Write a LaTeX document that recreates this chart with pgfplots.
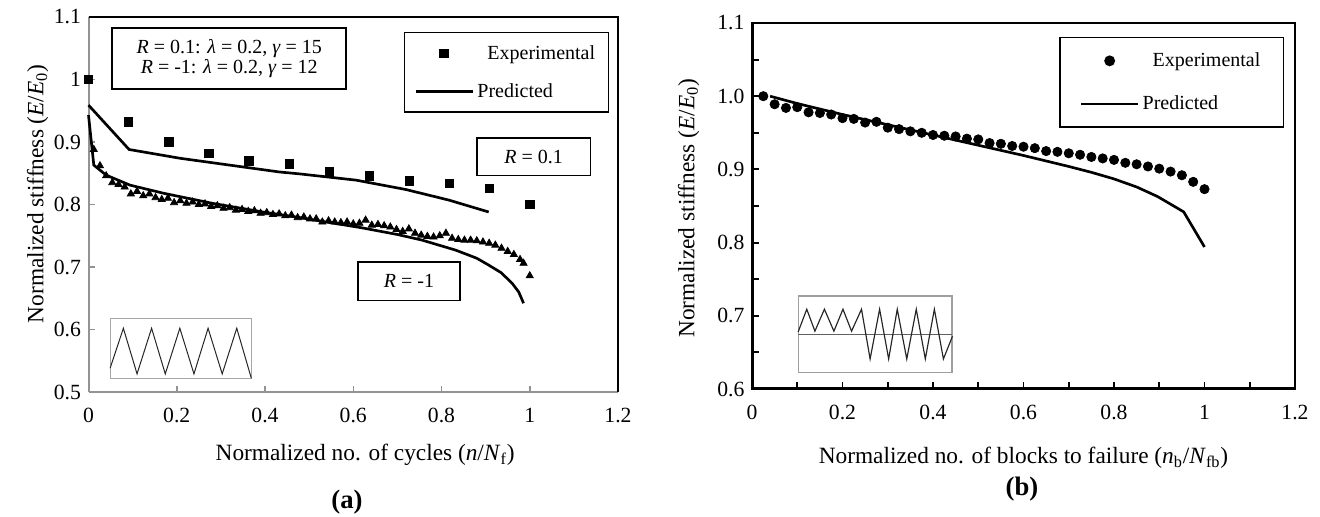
\documentclass[border=0pt]{standalone}
\usepackage{fontspec}
\setmainfont{Liberation Serif}
\usepackage{pgfplots}
\pgfplotsset{compat=1.18}

\pgfplotsset{
  common/.style={
    scale only axis,
    clip=false,
    /pgf/number format/assume math mode=true,
    tick align=inside,
    legend cell align=left,
    legend image code/.code={\draw[mark repeat=2,mark phase=2] plot coordinates {(0pt,0pt) (17pt,0pt) (34pt,0pt)};},
    label style={font=\fontsize{14}{16}\selectfont},
    tick label style={font=\fontsize{13}{15}\selectfont},
    xticklabel style={yshift=-6pt},
    yticklabel style={xshift=-1pt},
  },
}

\begin{document}
\begin{tikzpicture}
\useasboundingbox (0,0) rectangle (792pt,310.2pt);

% ---------------- (a) ----------------
\begin{axis}[common,
  at={(53.1pt,75pt)}, anchor=south west,
  width=317.7pt, height=225pt,
  xmin=0, xmax=1.2, ymin=0.5, ymax=1.1,
  xtick={0,0.2,0.4,0.6,0.8,1,1.2},
  ytick={0.5,0.6,0.7,0.8,0.9,1,1.1},
  axis x line*=bottom, axis y line*=left,
  axis line style={draw=gray!85, line width=1.2pt},
  tick style={gray!85, line width=0.9pt},
  major tick length=3.6pt,
  xlabel={Normalized no. of cycles (\textit{n}/\textit{N}\textsubscript{f})},
  ylabel={Normalized stiffness (\textit{E}/\textit{E}\textsubscript{0})},
  xlabel style={at={(axis cs:0.627,0.399)}, anchor=center},
  ylabel style={at={(axis cs:-0.115,0.817)}, anchor=center},
  legend style={at={(axis cs:0.715,1.076)}, anchor=north west, draw=black, line width=0.9pt,
    inner xsep=6pt, inner ysep=5.5pt, row sep=9pt, font=\fontsize{12}{14}\selectfont},
]
\addplot[only marks, mark=square*, mark size=2.5pt, black] coordinates {
  (0,1.000) (0.0909,0.932) (0.1818,0.900) (0.2727,0.882) (0.3636,0.870) (0.4545,0.865)
  (0.5455,0.852) (0.6364,0.846) (0.7273,0.838) (0.8182,0.834) (0.9091,0.826) (1.0,0.800)
};
\addlegendentry{\hspace{6pt}Experimental}
\addplot[black, line width=1.6pt, mark=none] coordinates {
  (0,0.959) (0.092,0.888) (0.207,0.874) (0.32,0.863) (0.433,0.852) (0.478,0.849)
  (0.606,0.839) (0.719,0.824) (0.817,0.807) (0.907,0.788)
};
\addlegendentry{Predicted}

\addplot[forget plot, only marks, mark=triangle*, mark size=2.5pt, black] coordinates {
  (0.012,0.888) (0.026,0.862) (0.040,0.846) (0.054,0.835) (0.068,0.832) (0.082,0.828)
  (0.096,0.817) (0.110,0.821) (0.124,0.814) (0.138,0.817) (0.152,0.811) (0.166,0.808)
  (0.180,0.810) (0.194,0.803) (0.208,0.806) (0.222,0.802) (0.236,0.804) (0.250,0.800)
  (0.264,0.801) (0.278,0.797) (0.292,0.798) (0.306,0.794) (0.320,0.795) (0.334,0.791)
  (0.348,0.792) (0.362,0.789) (0.376,0.790) (0.390,0.786) (0.404,0.787) (0.418,0.784)
  (0.432,0.785) (0.446,0.782) (0.460,0.783) (0.474,0.779) (0.488,0.780) (0.502,0.777)
  (0.516,0.777) (0.530,0.772) (0.544,0.774) (0.558,0.772) (0.572,0.771) (0.586,0.772)
  (0.600,0.769) (0.614,0.770) (0.628,0.775) (0.642,0.767) (0.656,0.768) (0.670,0.766)
  (0.684,0.764) (0.698,0.760) (0.712,0.757) (0.726,0.761) (0.740,0.754) (0.754,0.751)
  (0.768,0.749) (0.782,0.748) (0.796,0.750) (0.810,0.754) (0.824,0.746) (0.838,0.744)
  (0.852,0.743) (0.866,0.743) (0.880,0.742) (0.894,0.740) (0.908,0.738) (0.922,0.735)
  (0.936,0.730) (0.950,0.725) (0.964,0.720) (0.978,0.712) (0.986,0.706) (1.000,0.686)
};
\addplot[forget plot, black, line width=1.6pt, mark=none] coordinates {
  (0,0.943) (0.012,0.863) (0.04,0.847) (0.094,0.831) (0.17,0.818) (0.28,0.802)
  (0.395,0.788) (0.48,0.779) (0.53,0.773) (0.617,0.763) (0.7,0.752) (0.756,0.743)
  (0.832,0.727) (0.88,0.714) (0.907,0.703) (0.935,0.691) (0.96,0.674) (0.975,0.66) (0.986,0.642)
};

% inset loading
\draw[gray!70, line width=0.6pt] (axis cs:0.049,0.618) rectangle (axis cs:0.369,0.521);
\addplot[forget plot, black!85, line width=0.6pt, mark=none] coordinates {
  (0.049,0.538) (0.079,0.602) (0.110,0.529) (0.143,0.602) (0.174,0.529) (0.207,0.602)
  (0.239,0.529) (0.271,0.602) (0.303,0.529) (0.336,0.602) (0.369,0.522)
};

% annotation boxes
\draw[black, line width=0.9pt] (axis cs:0.053,1.082) rectangle (axis cs:0.584,0.985);
\node[align=center, font=\fontsize{12}{12.5}\selectfont] at (axis cs:0.319,1.0335)
  {\textit{R} = 0.1: \textit{λ} = 0.2, \textit{γ} = 15\\ \textit{R} = -1: \textit{λ} = 0.2, \textit{γ} = 12};
\draw[black, line width=0.9pt] (axis cs:0.880,0.906) rectangle (axis cs:1.138,0.846);
\node[font=\fontsize{12}{14}\selectfont] at (axis cs:1.009,0.876) {\textit{R} = 0.1};
\draw[black, line width=0.9pt] (axis cs:0.611,0.708) rectangle (axis cs:0.842,0.646);
\node[font=\fontsize{12}{14}\selectfont] at (axis cs:0.7265,0.677) {\textit{R} = -1};

\draw[black, line width=0.8pt] (rel axis cs:0,1) -- (rel axis cs:1,1) -- (rel axis cs:1,0);
\end{axis}

% ---------------- (b) ----------------
\begin{axis}[common,
  at={(451.2pt,76.8pt)}, anchor=south west,
  width=325.8pt, height=219.6pt,
  xmin=0, xmax=1.2, ymin=0.6, ymax=1.1,
  xtick={0,0.2,0.4,0.6,0.8,1,1.2},
  ytick={0.6,0.7,0.8,0.9,1.0,1.1},
  minor x tick num=1, minor y tick num=1,
  tick pos=left,
  axis line style={black, line width=1pt},
  tick style={black, line width=1.1pt},
  major tick length=4.2pt, minor tick length=4.2pt,
  yticklabel style={/pgf/number format/.cd, fixed, fixed zerofill, precision=1},
  xlabel={Normalized no. of blocks to failure (\textit{n}\textsubscript{b}/\textit{N}\textsubscript{fb})},
  ylabel={Normalized stiffness (\textit{E}/\textit{E}\textsubscript{0})},
  xlabel style={at={(axis cs:0.600,0.506)}, anchor=center},
  ylabel style={at={(axis cs:-0.140,0.847)}, anchor=center},
  legend style={at={(axis cs:0.679,1.081)}, anchor=north west, draw=black, line width=0.9pt,
    inner xsep=12pt, inner ysep=7pt, row sep=12pt, font=\fontsize{12}{14}\selectfont},
]
\addplot[only marks, mark=*, mark size=2.8pt, black] coordinates {
  (0.025,1.000) (0.050,0.989) (0.075,0.984) (0.100,0.985) (0.125,0.978) (0.150,0.977)
  (0.175,0.975) (0.200,0.970) (0.225,0.969) (0.250,0.964) (0.275,0.965) (0.300,0.957)
  (0.325,0.955) (0.350,0.952) (0.375,0.950) (0.400,0.947) (0.425,0.946) (0.450,0.945)
  (0.475,0.942) (0.500,0.941) (0.525,0.936) (0.550,0.935) (0.575,0.932) (0.600,0.931)
  (0.625,0.929) (0.650,0.925) (0.675,0.924) (0.700,0.922) (0.725,0.920) (0.750,0.917)
  (0.775,0.915) (0.800,0.913) (0.825,0.909) (0.850,0.907) (0.875,0.904) (0.900,0.901)
  (0.925,0.897) (0.950,0.892) (0.975,0.883) (1.000,0.873)
};
\addlegendentry{\hspace{6pt}Experimental}
\addplot[black, line width=1.6pt, mark=none] coordinates {
  (0.04,1.000) (0.1,0.990) (0.2,0.975) (0.3,0.961) (0.4,0.947) (0.5,0.933) (0.6,0.919)
  (0.7,0.904) (0.75,0.896) (0.8,0.887) (0.85,0.876) (0.896,0.863) (0.954,0.842) (1.0,0.794)
};
\addlegendentry{Predicted}

% inset loading
\draw[gray!75, line width=0.7pt] (axis cs:0.102,0.727) rectangle (axis cs:0.442,0.623);
\addplot[forget plot, gray!75!black, line width=0.7pt, mark=none] coordinates {(0.102,0.675) (0.442,0.675)};
\addplot[forget plot, black!85, line width=0.7pt, mark=none] coordinates {
  (0.102,0.678) (0.121,0.709) (0.139,0.679) (0.160,0.709) (0.181,0.679) (0.201,0.709)
  (0.220,0.679) (0.242,0.709) (0.261,0.641) (0.282,0.709) (0.302,0.641) (0.321,0.709)
  (0.342,0.641) (0.363,0.709) (0.383,0.641) (0.403,0.709) (0.423,0.641) (0.443,0.672)
};

\draw[black, line width=1.8pt] (rel axis cs:0,1) -- (rel axis cs:0,0) -- (rel axis cs:1,0);
\end{axis}

\node[font=\fontsize{16}{18}\selectfont\bfseries] at (208.2pt,9pt) {(a)};
\node[font=\fontsize{16}{18}\selectfont\bfseries] at (613.2pt,16.8pt) {(b)};
\end{tikzpicture}
\end{document}
